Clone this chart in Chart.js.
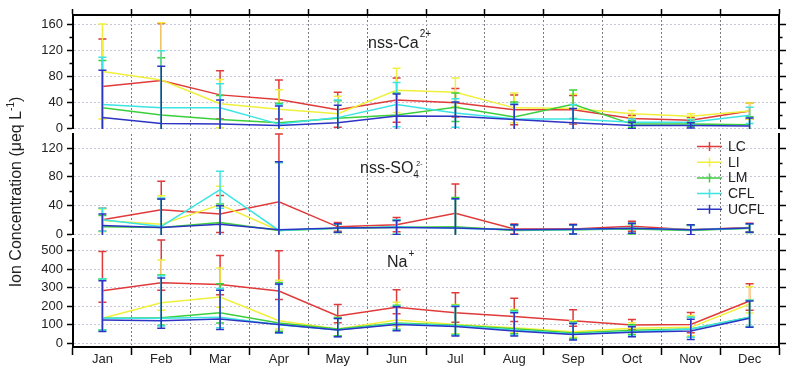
<!DOCTYPE html>
<html>
<head>
<meta charset="utf-8">
<script src="https://cdn.jsdelivr.net/npm/chart.js@4.4.1/dist/chart.umd.min.js"></script>
<style>
  body { margin: 0; background: #fff; }
  #wrap { position: relative; width: 800px; height: 374px; }
  #wrap canvas { position: absolute; left: 0; top: 0; }
</style>
</head>
<body>
<div id="wrap">
  <canvas id="ca" width="800" height="374"></canvas>
  <canvas id="so4" width="800" height="374"></canvas>
  <canvas id="na" width="800" height="374"></canvas>
</div>
<script>
// Datos
const months = ['Jan', 'Feb', 'Mar', 'Apr', 'May', 'Jun', 'Jul', 'Aug', 'Sep', 'Oct', 'Nov', 'Dec'];
const seriesNames = ['LC', 'LI', 'LM', 'CFL', 'UCFL'];

// nss-Ca2+
const caLC   = [64, 73, 51, 44, 28, 43, 39, 28, 28, 14.5, 12, 26];
const caLI   = [87, 74, 37.5, 29, 22, 58, 55, 31, 30, 22, 18, 26];
const caLM   = [31, 20, 13, 8, 15, 20, 32, 17, 36.5, 6, 6, 5];
const caCFL  = [36, 31, 31, 6, 16, 36, 23, 14, 14, 9, 9, 19.5];
const caUCFL = [16, 7, 6, 4, 8, 18.5, 18, 13, 8, 4, 4, 3];
const caErr  = [73, 88, 37, 30, 27, 34, 22, 23, 22, 5, 4, 12.5];
const caTicks = [0, 40, 80, 120, 160];
const caMinor = [20, 60, 100, 140];

// nss-SO4 2-
const soLC   = [20, 34, 28, 45, 10, 13, 29, 7, 7, 11, 6, 9];
const soLI   = [19, 13.5, 41, 5, 8, 10, 9, 6, 6, 8, 6, 8];
const soLM   = [10, 9, 16, 5, 8, 9, 10, 5, 6, 7, 5, 8];
const soCFL  = [20, 10.5, 62, 5, 8, 10, 8, 6, 6, 8, 6, 8];
const soUCFL = [12, 9, 13.5, 6, 8.5, 9, 8.5, 6, 6.5, 8, 6, 8.5];
const soErr  = [16, 40, 26, 95, 6, 10, 41, 7, 6.5, 7, 7, 6];
const soTicks = [0, 40, 80, 120];
const soMinor = [20, 60, 100];

// Na+
const naLC   = [284, 327, 318, 282, 147, 194, 165, 144, 122, 99, 102, 228];
const naLI   = [135, 219, 250, 122, 77, 126, 102, 84, 63, 81, 86, 212];
const naLM   = [135, 138, 165, 110, 77, 110, 98, 78, 56, 70, 77, 140];
const naCFL  = [135, 135, 140, 100, 72, 105, 95, 72, 50, 62, 77, 140];
const naUCFL = [126, 122, 131, 102, 72, 102, 90, 66, 48, 59, 66, 135];
const naErrUp   = [212, 230, 156, 218, 62, 95, 108, 99, 59, 30, 64, 93];
const naErrDown = [63, 41, 56, 45, 36, 34, 51, 27, 30, 23, 45, 49];
const naTicks = [0, 100, 200, 300, 400, 500];

const colors = ['#e03a3a', '#f0f03c', '#3ccf3c', '#3ce4e4', '#2c34c4'];
const FONT = '"Liberation Sans", Arial, sans-serif';
const TXT = '#222';

Chart.defaults.font.family = FONT;
Chart.defaults.color = TXT;

// Barras de error
const errorBars = {
    id: 'errorBars',
    afterDatasetDraw(chart, args) {
        const ds = chart.data.datasets[args.index];
        const y = chart.scales.y, a = chart.chartArea, ctx = chart.ctx;
        ctx.save();
        ctx.beginPath();
        ctx.rect(a.left, a.top - 1, a.right - a.left, a.bottom - a.top + 2);
        ctx.clip();
        ctx.strokeStyle = ds.borderColor;
        ctx.lineWidth = 1.5;
        args.meta.data.forEach((pt, j) => {
            const v = ds.data[j];
            const hi = y.getPixelForValue(v + ds.errUp[j]);
            const lo = y.getPixelForValue(v - ds.errDown[j]);
            ctx.beginPath();
            ctx.moveTo(pt.x, hi); ctx.lineTo(pt.x, lo);
            ctx.moveTo(pt.x - 4, hi); ctx.lineTo(pt.x + 4, hi);
            ctx.moveTo(pt.x - 4, lo); ctx.lineTo(pt.x + 4, lo);
            ctx.stroke();
        });
        ctx.restore();
    }
};

// Ticks menores + textos
const extras = {
    id: 'extras',
    afterDraw(chart, args, opts) {
        const ctx = chart.ctx, a = chart.chartArea, y = chart.scales.y;
        ctx.save();
        ctx.strokeStyle = '#000';
        ctx.lineWidth = 1.5;
        (opts.minor || []).forEach(v => {
            const py = Math.round(y.getPixelForValue(v)) + 0.5;
            ctx.beginPath();
            ctx.moveTo(a.left - 3.5, py); ctx.lineTo(a.left, py);
            ctx.moveTo(a.right, py); ctx.lineTo(a.right + 3.5, py);
            ctx.stroke();
        });
        if (opts.draw) opts.draw(ctx, a);
        ctx.restore();
    }
};

function txt(ctx, s, x, y, size, align) {
    ctx.font = size + 'px ' + FONT;
    ctx.fillStyle = TXT;
    ctx.textAlign = align || 'left';
    ctx.textBaseline = 'alphabetic';
    ctx.fillText(s, x, y);
    return ctx.measureText(s).width;
}

function makeDatasets(values, up, down) {
    return seriesNames.map((name, i) => ({
        label: name,
        data: values[i],
        borderColor: colors[i],
        backgroundColor: colors[i],
        borderWidth: 1.5,
        pointRadius: 0,
        tension: 0,
        order: 5 - i,
        errUp: up,
        errDown: down
    }));
}

function makePanel(id, cfg) {
    const yCommon = {
        type: 'linear',
        min: cfg.min,
        max: cfg.max,
        afterBuildTicks: s => { s.ticks = cfg.ticks.map(v => ({ value: v })); }
    };
    return new Chart(document.getElementById(id), {
        type: 'line',
        data: { labels: months, datasets: cfg.datasets },
        plugins: [errorBars, extras],
        options: {
            responsive: false,
            animation: false,
            devicePixelRatio: 1,
            layout: { padding: { top: cfg.padTop, bottom: cfg.padBottom, left: 0, right: 0 } },
            plugins: {
                legend: { display: false },
                tooltip: { enabled: false },
                extras: { minor: cfg.minor, draw: cfg.draw }
            },
            scales: {
                x: {
                    type: 'category',
                    offset: true,
                    position: cfg.xPos,
                    afterFit: s => { s.height = cfg.xHeight; },
                    grid: {
                        offset: true,
                        color: '#7a7a7a',
                        lineWidth: 1,
                        drawTicks: cfg.xTicks,
                        tickLength: cfg.xTickLen,
                        tickColor: '#000',
                        tickWidth: 1.5
                    },
                    border: { display: cfg.xBorder, color: '#000', width: 2, dash: [2, 2] },
                    ticks: {
                        display: cfg.xLabels,
                        padding: -3,
                        maxRotation: 0,
                        autoSkip: false,
                        font: { size: 13 },
                        color: TXT
                    }
                },
                y: Object.assign({}, yCommon, {
                    position: 'left',
                    afterFit: s => { s.width = 73; },
                    grid: {
                        color: '#c6c6dc',
                        lineWidth: 1,
                        drawTicks: true,
                        tickLength: 6,
                        tickColor: '#000',
                        tickWidth: 1.5
                    },
                    border: { display: true, color: '#000', width: 2, dash: [2, 2] },
                    ticks: { padding: 4, font: { size: 13 }, color: TXT }
                }),
                yR: Object.assign({}, yCommon, {
                    position: 'right',
                    afterFit: s => { s.width = 21; },
                    grid: {
                        drawOnChartArea: false,
                        drawTicks: true,
                        tickLength: 7,
                        tickColor: '#000',
                        tickWidth: 1.5
                    },
                    border: { display: true, color: '#000', width: 2 },
                    ticks: { display: false }
                })
            }
        }
    });
}

// Panel superior: nss-Ca2+
makePanel('ca', {
    datasets: makeDatasets([caLC, caLI, caLM, caCFL, caUCFL], caErr, caErr),
    min: 0, max: 174, ticks: caTicks, minor: caMinor,
    padTop: 0, padBottom: 246,
    xPos: 'top', xHeight: 15, xTicks: true, xTickLen: 6, xBorder: true, xLabels: false,
    draw(ctx) {
        const w = txt(ctx, 'nss-Ca', 368, 48, 16);
        txt(ctx, '2+', 368 + w + 1, 37, 10);
    }
});

// Panel central: nss-SO4 2- (con leyenda y título del eje)
makePanel('so4', {
    datasets: makeDatasets([soLC, soLI, soLM, soCFL, soUCFL], soErr, soErr),
    min: 0, max: 140, ticks: soTicks, minor: soMinor,
    padTop: 134, padBottom: 140,
    xPos: 'bottom', xHeight: 0, xTicks: false, xTickLen: 0, xBorder: false, xLabels: false,
    draw(ctx) {
        const w = txt(ctx, 'nss-SO', 360, 172.5, 16);
        txt(ctx, '4', 360 + w, 178, 10);
        txt(ctx, '2-', 360 + w + 3, 166, 7);

        // leyenda
        seriesNames.forEach((name, i) => {
            const yy = 146.5 + i * 15.7;
            ctx.strokeStyle = colors[i];
            ctx.lineWidth = 1.5;
            ctx.beginPath();
            ctx.moveTo(697, yy); ctx.lineTo(722, yy);
            ctx.moveTo(709.5, yy - 4.5); ctx.lineTo(709.5, yy + 4.5);
            ctx.stroke();
            ctx.font = '14px ' + FONT;
            ctx.fillStyle = TXT;
            ctx.textAlign = 'left';
            ctx.textBaseline = 'middle';
            ctx.fillText(name, 728, yy + 0.5);
        });

        // título eje Y
        ctx.save();
        ctx.translate(21, 192);
        ctx.rotate(-Math.PI / 2);
        ctx.font = '16px ' + FONT;
        const main = 'Ion Concentration (μeq L';
        const wMain = ctx.measureText(main).width;
        ctx.font = '10px ' + FONT;
        const wSup = ctx.measureText('-1').width;
        ctx.font = '16px ' + FONT;
        const wEnd = ctx.measureText(')').width;
        const x0 = -(wMain + wSup + wEnd) / 2;
        txt(ctx, main, x0, 0, 16);
        txt(ctx, '-1', x0 + wMain, -7, 10);
        txt(ctx, ')', x0 + wMain + wSup, 0, 16);
        ctx.restore();
    }
});

// Panel inferior: Na+
makePanel('na', {
    datasets: makeDatasets([naLC, naLI, naLM, naCFL, naUCFL], naErrUp, naErrDown),
    min: -20, max: 563, ticks: naTicks, minor: [],
    padTop: 239, padBottom: 0,
    xPos: 'bottom', xHeight: 27, xTicks: true, xTickLen: 8, xBorder: true, xLabels: true,
    draw(ctx) {
        const w = txt(ctx, 'Na', 387, 267, 16);
        txt(ctx, '+', 387 + w + 1, 257, 10);
    }
});
</script>
</body>
</html>
